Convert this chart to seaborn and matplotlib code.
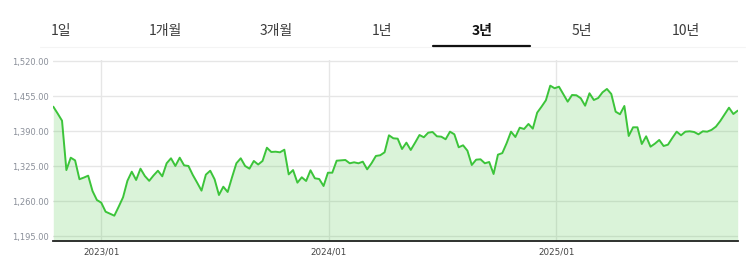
import matplotlib
matplotlib.use("Agg")
import matplotlib.pyplot as plt
import matplotlib.dates as mdates
from matplotlib.ticker import FuncFormatter
import seaborn as sns
import pandas as pd

# ---- data (weekly) ----
start_date = "2022-10-16"
values = [
    1435.7, 1423.0, 1409.7, 1318.0, 1341.0, 1336.0, 1301.0, 1304.0, 1307.6, 1279.0,
    1262.4, 1257.5, 1240.7, 1237.0, 1233.3, 1250.0, 1267.4, 1298.0, 1315.0, 1299.6,
    1320.6, 1307.0, 1298.0, 1308.0, 1316.8, 1306.4, 1330.6, 1339.9, 1325.6, 1341.0,
    1326.8, 1325.6, 1308.9, 1294.6, 1279.8, 1309.5, 1316.8, 1300.9, 1271.7, 1287.1,
    1277.3, 1304.6, 1330.6, 1339.9, 1325.6, 1320.6, 1334.9, 1328.3, 1334.9, 1359.5,
    1351.6, 1352.1, 1351.0, 1355.8, 1310.0, 1318.0, 1294.6, 1304.6, 1297.7, 1317.6,
    1302.7, 1301.4, 1288.4, 1313.1, 1313.1, 1335.4, 1336.0, 1336.7, 1330.6, 1332.4,
    1330.6, 1333.6, 1319.4, 1330.6, 1344.2, 1345.5, 1351.0, 1382.6, 1377.0, 1376.3,
    1357.1, 1368.9, 1355.3, 1368.9, 1383.1, 1378.9, 1387.4, 1388.7, 1380.7, 1380.0,
    1375.2, 1389.3, 1384.4, 1360.3, 1364.0, 1354.0, 1327.4, 1337.3, 1338.0, 1330.6,
    1333.0, 1310.7, 1346.6, 1349.5, 1368.0, 1389.3, 1379.4, 1396.7, 1394.3, 1403.6,
    1394.9, 1424.6, 1435.7, 1447.6, 1474.7, 1469.9, 1472.8, 1458.7, 1445.0, 1457.4,
    1456.9, 1451.3, 1437.5, 1460.6, 1448.1, 1451.8, 1462.4, 1468.6, 1459.3, 1426.4,
    1421.6, 1437.0, 1381.3, 1397.4, 1397.4, 1366.4, 1380.7, 1361.4, 1367.0, 1373.9,
    1362.7, 1365.1, 1377.6, 1389.3, 1382.6, 1389.3, 1390.0, 1388.7, 1384.4, 1390.0,
    1389.3, 1392.6, 1398.6, 1409.1, 1421.6, 1433.8, 1422.1, 1428.3,
]
dates = pd.date_range(start_date, periods=len(values), freq="7D")
y_ticks = [1195, 1260, 1325, 1390, 1455, 1520]
x_ticks = ["2023-01-01", "2024-01-01", "2025-01-01"]
tabs = ["1일", "1개월", "3개월", "1년", "3년", "5년", "10년"]
active_tab = "3년"

df = pd.DataFrame({"date": dates, "value": values})

sns.set_style("white")
plt.rcParams["font.family"] = ["Noto Sans CJK KR", "DejaVu Sans"]

W, H = 753, 264
fig = plt.figure(figsize=(W / 100, H / 100), dpi=100)
ax = fig.add_axes([53.3 / W, 1 - 241 / H, (737.7 - 53.3) / W, (241 - 60.2) / H])

line_c = "#3cc43a"
ax.grid(True, color="#e6e6e6", lw=1, zorder=0)
ax.set_axisbelow(True)
ax.fill_between(df["date"], df["value"], 1100, color=line_c, alpha=0.19, lw=0, zorder=1)
sns.lineplot(data=df, x="date", y="value", ax=ax, color=line_c, lw=1.4, zorder=3)

ax.set_xlim(dates[0], dates[-1])
ax.set_ylim(1186.3, 1522)
ax.set_yticks(y_ticks)
ax.yaxis.set_major_formatter(FuncFormatter(lambda v, p: f"{v:,.2f}"))
ax.set_xticks(pd.to_datetime(x_ticks))
ax.xaxis.set_major_formatter(mdates.DateFormatter("%Y/%m"))
ax.set_xlabel("")
ax.set_ylabel("")

for s in ["top", "right", "left"]:
    ax.spines[s].set_visible(False)
ax.spines["bottom"].set_color("#222222")
ax.spines["bottom"].set_linewidth(1.3)
ax.tick_params(axis="y", length=0, pad=3, labelsize=6, labelcolor="#8a8f99")
ax.tick_params(axis="x", length=3, width=0.8, color="#444444", pad=2,
               labelsize=6.3, labelcolor="#444444")
for t in ax.get_yticklabels() + ax.get_xticklabels():
    t.set_family(["DejaVu Sans"])

# ---- tab bar ----
tab_x = [61, 165, 276, 382, 482, 582, 686]
for name, x in zip(tabs, tab_x):
    active = name == active_tab
    fig.text(x / W, 1 - 30.5 / H, name, ha="center", va="center",
             fontsize=10, color="#111111" if active else "#3a3a3a",
             fontweight="bold" if active else "normal")
fig.add_artist(plt.Line2D([40 / W, 745 / W], [1 - 47 / H] * 2, color="#f4f4f4", lw=0.8))
fig.add_artist(plt.Line2D([433 / W, 530 / W], [1 - 45.5 / H] * 2, color="#111111", lw=1.6))

fig.savefig("out.png", dpi=100)
